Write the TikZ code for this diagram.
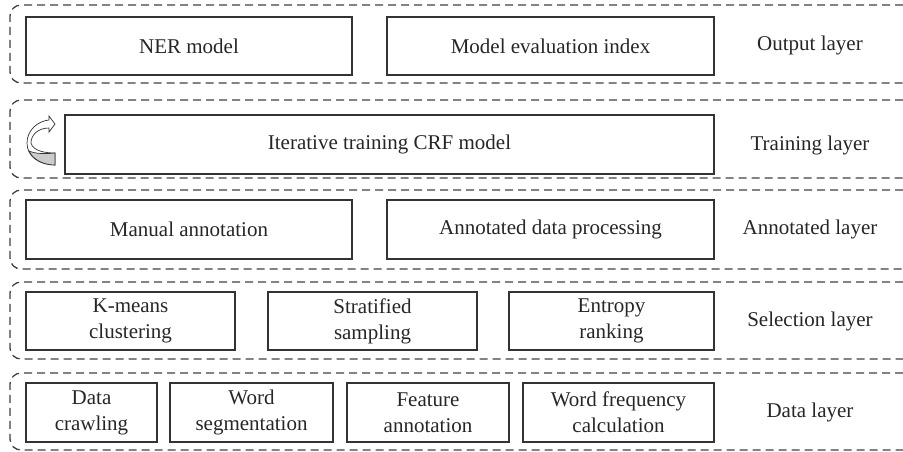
\documentclass[tikz,border=0pt]{standalone}
\usepackage{fontspec}
\setmainfont{Liberation Serif}
\begin{document}
\begin{tikzpicture}[x=1pt,y=-1pt,
  every node/.style={font=\fontsize{21}{26}\selectfont, text=black!85},
  boxnode/.style={draw=black!80, line width=1.3pt, inner sep=0pt, align=center},
  dashframe/.style={draw=black!75, line width=1.3pt, dash pattern=on 8pt off 5pt, rounded corners=11pt},
  layerlabel/.style={inner sep=0pt, anchor=center}]
\useasboundingbox (0,0) rectangle (903,451);
% frames
\draw[dashframe] (903,5) -- (10,5) -- (10,83) -- (903,83);
\draw[dashframe] (903,100) -- (10,100) -- (10,178) -- (903,178);
\draw[dashframe] (903,190) -- (10,190) -- (10,269) -- (903,269);
\draw[dashframe] (903,282) -- (10,282) -- (10,359) -- (903,359);
\draw[dashframe] (903,373) -- (10,373) -- (10,450) -- (903,450);
% output layer
\node[boxnode, minimum width=326, minimum height=58] (ner) at (189,46) {NER model};
\node[boxnode, minimum width=327, minimum height=58] (eval) at (550.5,46) {Model evaluation index};
\node[layerlabel] (outl) at (810,45) {Output layer};
% training layer
\node[boxnode, minimum width=649, minimum height=59] (crf) at (389.5,144.5) {Iterative training CRF model};
\node[layerlabel] (trainl) at (810,145) {Training layer};
% icon
\path[draw=black!80, line width=0.7pt, fill=white]
  (49,116) -- (55,124) -- (49,132) -- (49,128)
  .. controls (38,128) and (31,135) .. (31,143)
  .. controls (33,151) and (45,153) .. (55,153) -- (55,165)
  .. controls (40,165) and (27,157) .. (27,143)
  .. controls (27,130) and (38,121) .. (49,120) -- cycle;
\path[draw=black!80, line width=0.7pt, fill=black!20]
  (29,151) .. controls (36,154) and (45,154) .. (55,153) -- (55,165)
  .. controls (44,165) and (33,160) .. (29,151) -- cycle;
% annotated layer
\node[boxnode, minimum width=326, minimum height=59] (manual) at (189,229.5) {Manual annotation};
\node[boxnode, minimum width=327, minimum height=59] (annproc) at (550.5,229.5) {Annotated data processing};
\node[layerlabel] (annl) at (810,229) {Annotated layer};
% selection layer
\node[boxnode, minimum width=209, minimum height=58] (kmeans) at (130.5,321) {K-means\\clustering};
\node[boxnode, minimum width=209, minimum height=58] (strat) at (372.5,321) {Stratified\\sampling};
\node[boxnode, minimum width=205, minimum height=58] (entropy) at (611.5,321) {Entropy\\ranking};
\node[layerlabel] (sell) at (810,321) {Selection layer};
% data layer
\node[boxnode, minimum width=131, minimum height=59] (crawl) at (91.5,412.5) {Data\\crawling};
\node[boxnode, minimum width=163, minimum height=59] (wordseg) at (251.5,412.5) {Word\\segmentation};
\node[boxnode, minimum width=162, minimum height=59] (feat) at (428,412.5) {Feature\\annotation};
\node[boxnode, minimum width=191, minimum height=59] (wfreq) at (618.5,412.5) {Word frequency\\calculation};
\node[layerlabel] (datal) at (810,412) {Data layer};
\end{tikzpicture}
\end{document}
